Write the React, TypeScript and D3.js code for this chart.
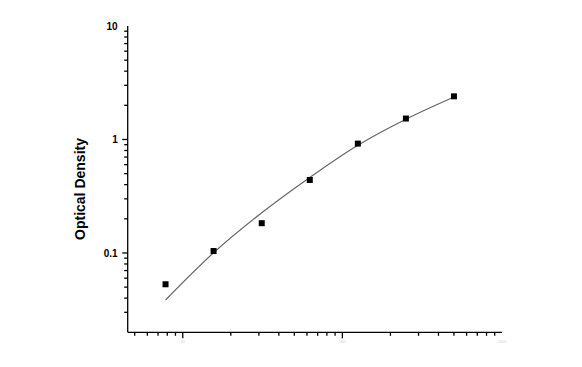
import React from "react";
import * as d3 from "d3";

const concentrations = [7.8, 15.6, 31.25, 62.5, 125, 250, 500];
const odValues = [0.053, 0.104, 0.183, 0.44, 0.92, 1.53, 2.4];
const curveConc = [7.8, 15.6, 31.25, 62.5, 125, 250, 500];
const curveOd = [0.0385, 0.1004, 0.226, 0.463, 0.89, 1.51, 2.37];
const yTickLabels = [0.1, 1, 10];
const xTickLabels = [10, 100, 1000];
const yLabel = "Optical Density";

export default function App() {
  const W = 582, H = 367;
  const x = d3.scaleLog().domain([4.52, 1000]).range([127.7, 502]);
  const y = d3.scaleLog().domain([0.02, 10]).range([332.3, 26]);

  const xMinor: number[] = [];
  [1, 10, 100].forEach((d) => {
    for (let k = 1; k <= 9; k++) {
      const v = d * k;
      if (v >= 5 && v <= 1000) xMinor.push(v);
    }
  });
  const yMinor: number[] = [];
  [0.01, 0.1, 1].forEach((d) => {
    for (let k = 1; k <= 9; k++) {
      const v = +(d * k).toPrecision(3);
      if (v > 0.02 && v <= 10) yMinor.push(v);
    }
  });

  const line = d3
    .line<number>()
    .x((_, i) => x(curveConc[i]))
    .y((d) => y(d))
    .curve(d3.curveCatmullRom.alpha(0.5));

  const x0 = x.range()[0];
  const y0 = y.range()[0];

  return (
    <svg width={W} height={H} style={{ position: "absolute", left: 0, top: 0 }}>
      <rect width={W} height={H} fill="#fff" />
      <g stroke="#000" strokeWidth={1.3}>
        <line x1={x0} x2={x0} y1={y(10)} y2={y0} />
        <line x1={x0} x2={x.range()[1]} y1={y0} y2={y0} />
        {yMinor.map((v) => {
          const major = yTickLabels.includes(v);
          return <line key={"ym" + v} x1={x0 - (major ? 5.5 : 3.5)} x2={x0} y1={y(v)} y2={y(v)} />;
        })}
        {xMinor.map((v) => {
          const major = xTickLabels.includes(v);
          return <line key={"xm" + v} x1={x(v)} x2={x(v)} y1={y0} y2={y0 + (major ? 6 : 3.5)} />;
        })}
      </g>
      <g fontFamily="Liberation Sans, Arial, sans-serif" fontWeight="bold" fontSize={10} textAnchor="end">
        {yTickLabels.map((v) => (
          <text key={"yl" + v} x={x0 - 10} y={y(v) + 3.6}>
            {v}
          </text>
        ))}
      </g>
      <g fontFamily="Liberation Sans, Arial, sans-serif" fontSize={4} fill="#d0d0d0" textAnchor="middle">
        {xTickLabels.map((v) => (
          <text key={"xl" + v} x={x(v)} y={y0 + 10.5}>
            {v}
          </text>
        ))}
      </g>
      <text
        transform={`translate(85,189) rotate(-90)`}
        fontFamily="Liberation Sans, Arial, sans-serif"
        fontWeight="bold"
        fontSize={14}
        textAnchor="middle"
      >
        {yLabel}
      </text>
      <path d={line(curveOd) || ""} fill="none" stroke="#666" strokeWidth={1.2} />
      {concentrations.map((c, i) => (
        <rect key={"p" + i} x={x(c) - 3} y={y(odValues[i]) - 3} width={6} height={6} fill="#000" />
      ))}
    </svg>
  );
}
